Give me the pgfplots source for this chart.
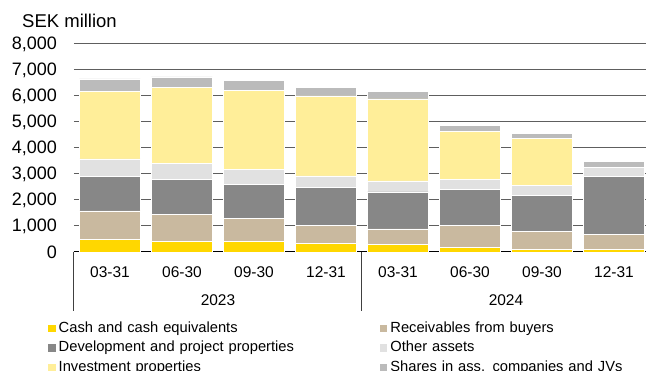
\documentclass[border=0pt]{standalone}
\usepackage{pgfplots}
\pgfplotsset{compat=1.18}
\usepackage{fontspec}
\setmainfont{Liberation Sans}
\definecolor{cCash}{HTML}{FFD700}
\definecolor{cRecv}{HTML}{C9B99F}
\definecolor{cDev}{HTML}{878787}
\definecolor{cOther}{HTML}{E1E1E1}
\definecolor{cInv}{HTML}{FFEE99}
\definecolor{cShare}{HTML}{BBBBBB}
\definecolor{cGrid}{HTML}{5E5E5E}
\begin{document}
\begin{tikzpicture}[x=1pt,y=1pt]
\clip (0,0) rectangle (646,371);
\node[anchor=base west, inner sep=0pt, font=\fontsize{18.5}{22}\selectfont] at (22,343.5) {SEK million};
\begin{axis}[
  at={(74pt,119pt)}, anchor=south west,
  scale only axis, width=576pt, height=208pt,
  xmin=-0.5, xmax=7.5, ymin=0, ymax=8000,
  enlargelimits=false, clip=false,
  ybar stacked, bar width=61pt,
  xtick={0,...,7},
  xticklabels={03-31,06-30,09-30,12-31,03-31,06-30,09-30,12-31},
  ytick={0,1000,...,8000},
  scaled y ticks=false,
  major tick length=0pt,
  axis line style={draw=none},
  ymajorgrids, major grid style={line width=1pt, color=cGrid},
  /pgf/number format/assume math mode=true,
  yticklabel style={/pgf/number format/1000 sep={,}, font=\fontsize{18}{20}\selectfont, inner sep=0pt, anchor=east, xshift=-17pt},
  xticklabel style={font=\fontsize{15.5}{18}\selectfont, anchor=base, inner sep=0pt, yshift=-25.3pt},
  every axis plot post/.append style={draw=white, line width=0.6pt,
    legend image code/.code={\fill[##1, draw=none] (0pt,-3.85pt) rectangle (7.7pt,3.85pt);}},
  legend columns=2,
  legend cell align=left,
  legend style={at={(axis description cs:-0.0451,-0.3355)}, anchor=north west,
    draw=none, fill=none, inner sep=0pt, outer sep=0pt,
    font=\fontsize{14.7}{17}\selectfont, row sep=6pt,
    nodes={inner sep=0pt, anchor=west, text height=10.5pt, text depth=3pt, text width=321pt, align=left},
    /tikz/every odd column/.append style={column sep=3pt}},
]
\addplot[fill=cCash] coordinates {(0,490) (1,411) (2,411) (3,320) (4,295) (5,192) (6,90) (7,115)};
\addplot[fill=cRecv] coordinates {(0,1087) (1,1025) (2,884) (3,718) (4,590) (5,821) (6,692) (7,552)};
\addplot[fill=cDev] coordinates {(0,1320) (1,1359) (2,1320) (3,1436) (4,1423) (5,1384) (6,1385) (7,2230)};
\addplot[fill=cOther] coordinates {(0,680) (1,615) (2,577) (3,449) (4,423) (5,385) (6,384) (7,359)};
\addplot[fill=cInv] coordinates {(0,2589) (1,2910) (2,3026) (3,3077) (4,3154) (5,1846) (6,1808) (7,0)};
\addplot[fill=cShare] coordinates {(0,488) (1,411) (2,385) (3,346) (4,294) (5,244) (6,205) (7,218)};
\legend{Cash and cash equivalents, Receivables from buyers, Development and project properties, Other assets, Investment properties, Shares in ass. companies and JVs}
\draw[black, line width=1pt] (axis cs:-0.5,0) -- (axis cs:7.5,0);
\draw[black!75, line width=1pt] (axis cs:-0.5,0) -- ++(0pt,-59pt);
\draw[black!75, line width=1pt] (axis cs:3.5,0) -- ++(0pt,-59pt);
\draw[black!75, line width=1pt] (axis cs:7.5,0) -- ++(0pt,-59pt);
\node[anchor=base, inner sep=0pt, font=\fontsize{15.5}{18}\selectfont, yshift=-54pt] at (axis cs:1.5,0) {2023};
\node[anchor=base, inner sep=0pt, font=\fontsize{15.5}{18}\selectfont, yshift=-54pt] at (axis cs:5.5,0) {2024};
\end{axis}
\end{tikzpicture}
\end{document}
